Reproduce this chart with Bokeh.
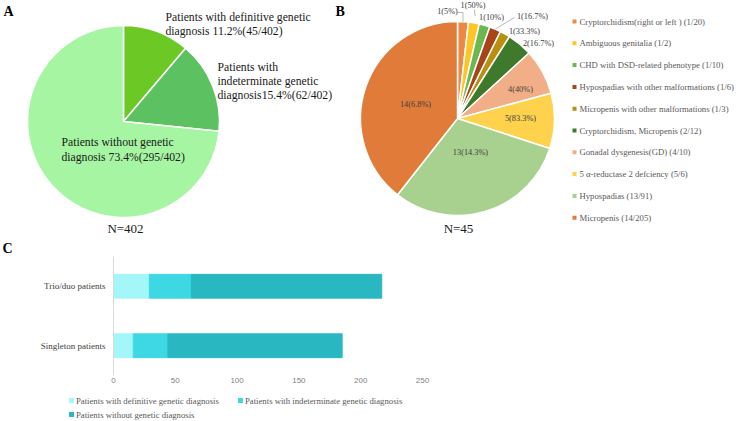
import numpy as np
from bokeh.plotting import figure
from bokeh.models import Range1d, FactorRange, FixedTicker, ColumnDataSource
from bokeh.core.properties import value
from bokeh.embed import file_html
from bokeh.resources import INLINE

# ---------------- data ----------------
# Panel A
a_counts = [45, 62, 295]
a_total = 402
a_colors = ["#6CC824", "#5CC160", "#A6F5A2"]

# Panel B
b_names = ["Cryptorchidism(right or left )", "Ambiguous genitalia", "CHD with DSD-related phenotype",
           "Hypospadias with other malformations", "Micropenis with other malformations",
           "Cryptorchidism, Micropenis", "Gonadal dysgenesis(GD)", "5 \u03b1-reductase 2 defciency",
           "Hypospadias", "Micropenis"]
b_counts = [1, 1, 1, 1, 1, 2, 4, 5, 13, 14]
b_denoms = [20, 2, 10, 6, 3, 12, 10, 6, 91, 205]
# share of the pie each slice covers (%)
b_share = [1.8, 1.8, 1.8, 1.9, 1.7, 4.2, 7.6, 9.2, 30.6, 39.4]
b_total = 45
b_colors = ["#EC8A45", "#FFC526", "#6CB850", "#A8441A", "#B8900E",
            "#3F7A2C", "#F2AE86", "#FFD24E", "#A8D08E", "#E07B3A"]

# Panel C
c_groups = ["Singleton patients", "Trio/duo patients"]
c_definitive = [16, 29]
c_indeterminate = [28, 34]
c_without = [141, 154]
c_series = ["Patients with definitive genetic diagnosis",
            "Patients with  indeterminate genetic diagnosis",
            "Patients without genetic diagnosis"]
c_colors = ["#A3F7F9", "#3ED8E4", "#29B8C2"]
c_ticks = [0, 50, 100, 150, 200, 250]

SERIF = value("Liberation Serif")


def blank_fig(w, h, x0, x1, y0, y1):
    f = figure(width=w, height=h, x_range=Range1d(x0, x1), y_range=Range1d(y0, y1),
               x_axis_type=None, y_axis_type=None, output_backend="svg", toolbar_location=None,
               min_border=0, min_border_left=0, min_border_right=0, min_border_top=0,
               min_border_bottom=0)
    f.grid.visible = False
    f.outline_line_color = None
    return f


def draw_pie(fig, cx, cy, r, vals, colors):
    v = np.array(vals, dtype=float)
    cum = np.concatenate([[0.0], np.cumsum(v)]) / v.sum()
    start = np.pi / 2 - 2 * np.pi * cum[1:]
    end = np.pi / 2 - 2 * np.pi * cum[:-1]
    src = ColumnDataSource(dict(start=start, end=end, color=colors))
    fig.wedge(x=cx, y=-cy, radius=r, start_angle="start", end_angle="end",
              fill_color="color", line_color="white", line_width=1.5, source=src)
    return np.pi / 2 - 2 * np.pi * (cum[1:] + cum[:-1]) / 2


def txt(fig, x, y, s, size, align="left", color="#1a1a1a", style="normal"):
    fig.text(x=[x], y=[-y], text=[s], text_font=SERIF, text_font_size=size,
             text_align=align, text_baseline="middle", text_color=color, text_font_style=style)


# ---------------- top figure (panels A and B), page coordinates ----------------
p = blank_fig(744, 256, 0, 744, -256, 0)

# Panel A
draw_pie(p, 123, 121, 96, a_counts, a_colors)
pct = [100.0 * c / a_total for c in a_counts]
txt(p, 165, 17, "Patients with definitive genetic", "11.7px")
txt(p, 165, 31, "diagnosis %.1f%%(%d/%d)" % (pct[0], a_counts[0], a_total), "11.7px")
txt(p, 217, 67, "Patients with", "11.7px")
txt(p, 217, 81, "indeterminate genetic", "11.7px")
txt(p, 217, 95, "diagnosis%.1f%%(%d/%d)" % (pct[1], a_counts[1], a_total), "11.7px")
txt(p, 61, 142, "Patients without genetic", "11.7px")
txt(p, 61, 157, "diagnosis %.1f%%(%d/%d)" % (pct[2], a_counts[2], a_total), "11.7px")
txt(p, 125, 228, "N=%d" % a_total, "13px", align="center")
txt(p, 3, 11, "A", "14px", style="bold", color="black")

# Panel B
bcx, bcy, br = 457, 118, 97
mid = draw_pie(p, bcx, bcy, br, b_share, b_colors)
b_lab = ["%d(%s%%)" % (c, ("%.1f" % (100.0 * c / d)).rstrip("0").rstrip(".")) for c, d in zip(b_counts, b_denoms)]
lab_pos = [(447, 11), (472.5, 5), (491, 17), (532, 16), (524, 31), (538, 43),
           (520, 89), (520, 118), (470, 152), (415, 104)]
for s, (lx, ly) in zip(b_lab, lab_pos):
    txt(p, lx, ly, s, "8.3px", align="center", color="#404040")

# leader lines
ex = bcx + br * np.cos(mid)
ey = -(bcy - br * np.sin(mid))
fx = bcx + (br + 7) * np.cos(mid)
fy = -(bcy - (br + 7) * np.sin(mid))
leader_x = [[457, ex[0], ex[0]], [474, fx[1]], [ex[3], 514]]
leader_y = [[-12, -12, ey[0]], [-9, fy[1]], [ey[3], -17]]
p.multi_line(xs=leader_x, ys=leader_y, line_color="#A6A6A6", line_width=0.8)

txt(p, 458, 228, "N=%d" % b_total, "13px", align="center")
txt(p, 335, 11, "B", "14px", style="bold", color="black")

# legend B
leg_y = [21 + 21.8 * i for i in range(len(b_names))]
p.scatter(x=[574] * len(b_names), y=[-y for y in leg_y], marker="square", size=4,
          fill_color=b_colors, line_color=None)
for name, c, d, y in zip(b_names, b_counts, b_denoms, leg_y):
    txt(p, 579, y, "%s (%d/%d)" % (name, c, d), "8.7px", color="#595959")

txt(p, 2, 248, "C", "14px", style="bold", color="black")

# ---------------- bar figure (panel C) ----------------
pc = figure(width=744, height=136, x_range=Range1d(0, 510.5), y_range=FactorRange(factors=c_groups),
            output_backend="svg", toolbar_location=None,
            min_border_left=113, min_border_right=0, min_border_top=0, min_border_bottom=17)
src = ColumnDataSource(dict(group=c_groups, definitive=c_definitive,
                            indeterminate=c_indeterminate, without=c_without))
pc.hbar_stack(["definitive", "indeterminate", "without"], y="group", height=0.4,
              color=c_colors, source=src)
pc.grid.visible = False
pc.outline_line_color = None
pc.xaxis.ticker = FixedTicker(ticks=c_ticks)
pc.xaxis.axis_line_color = None
pc.xaxis.major_tick_line_color = None
pc.xaxis.minor_tick_line_color = None
pc.xaxis.major_tick_out = 0
pc.xaxis.major_label_text_font = "Liberation Sans"
pc.xaxis.major_label_text_font_size = "8px"
pc.xaxis.major_label_text_color = "#7F7F7F"
pc.xaxis.major_label_standoff = 2
pc.yaxis.axis_line_color = "#D9D9D9"
pc.yaxis.major_tick_line_color = None
pc.yaxis.minor_tick_line_color = None
pc.yaxis.major_tick_out = 0
pc.yaxis.major_label_text_font = "Liberation Serif"
pc.yaxis.major_label_text_font_size = "9px"
pc.yaxis.major_label_text_color = "#404040"
pc.yaxis.major_label_standoff = 8

# ---------------- legend figure (panel C) ----------------
pl = blank_fig(744, 29, 0, 744, -421, -392)
leg_xy = [(71, 400), (240, 400), (71, 414)]
pl.scatter(x=[q[0] for q in leg_xy], y=[-q[1] for q in leg_xy], marker="square", size=5,
           fill_color=c_colors, line_color=None)
for name, (lx, ly) in zip(c_series, leg_xy):
    txt(pl, lx + 4.5, ly, name, "8.7px", color="#595959")

open("out.html", "w").write(file_html([p, pc, pl], INLINE))
